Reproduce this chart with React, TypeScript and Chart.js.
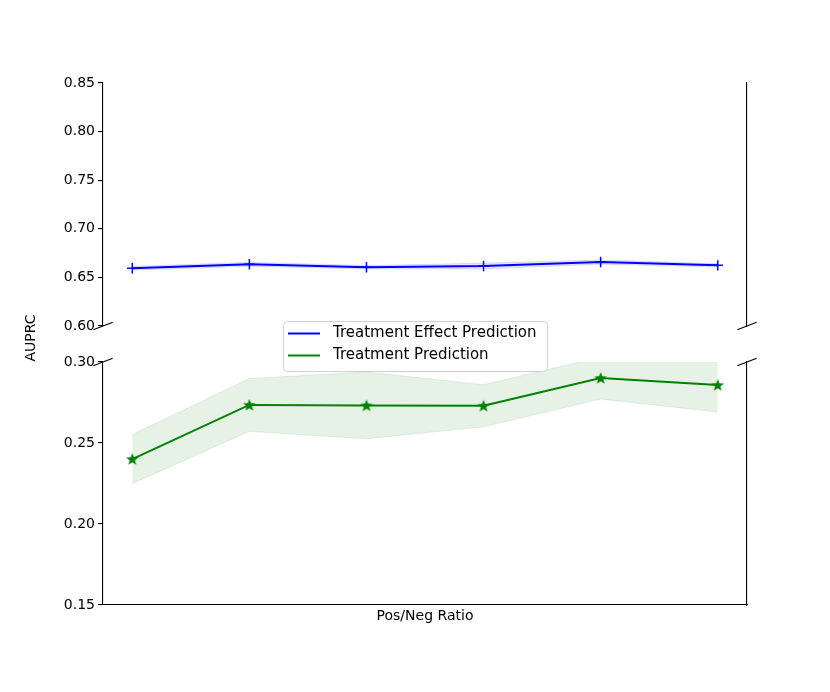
import React, { useRef, useEffect } from 'react';
import { Chart, registerables, Plugin } from 'chart.js';

Chart.register(...registerables);

Chart.defaults.font.family = "'DejaVu Sans', sans-serif";
Chart.defaults.font.size = 14;
Chart.defaults.color = '#000';

// unlabelled x positions (pos/neg ratio steps)
const ratioSteps = [0, 1, 2, 3, 4, 5];

const seriesNames = ['Treatment Effect Prediction', 'Treatment Prediction'];

const effectMean = [0.6594, 0.6635, 0.6604, 0.6617, 0.6658, 0.6624];
const effectStd = [0.0018, 0.0022, 0.0018, 0.003, 0.0022, 0.0018];

const treatMean = [0.2401, 0.2735, 0.2732, 0.2730, 0.2901, 0.2858];
const treatStd = [0.0152, 0.0163, 0.0206, 0.0130, 0.0130, 0.0167];

const topTicks = [0.6, 0.65, 0.7, 0.75, 0.8, 0.85];
const bottomTicks = [0.15, 0.2, 0.25, 0.3];

const BLUE = '#0000ff';
const GREEN = '#008000';

const pts = (vals: number[]) => ratioSteps.map((x, i) => ({ x, y: vals[i] }));
const shifted = (vals: number[], std: number[], sign: number) => vals.map((v, i) => v + sign * std[i]);

const makeStar = (color: string, r: number) => {
	const c = document.createElement('canvas');
	const s = Math.ceil(r * 2 + 2);
	c.width = s;
	c.height = s;
	const ctx = c.getContext('2d')!;
	ctx.beginPath();
	for (let i = 0; i < 10; i++) {
		const rad = i % 2 === 0 ? r : r * 0.42;
		const a = -Math.PI / 2 + (i * Math.PI) / 5;
		ctx.lineTo(s / 2 + rad * Math.cos(a), s / 2 + 0.5 + rad * Math.sin(a));
	}
	ctx.closePath();
	ctx.fillStyle = color;
	ctx.fill();
	return c;
};

const breakMarks = (edge: 'top' | 'bottom'): Plugin => ({
	id: 'breakMarks',
	afterDraw(chart) {
		const { ctx, chartArea: a } = chart;
		const y = edge === 'top' ? a.top : a.bottom;
		const dx = 0.015 * (a.right - a.left);
		const dy = 0.015 * (a.bottom - a.top);
		ctx.save();
		ctx.strokeStyle = '#000';
		ctx.lineWidth = 1.1;
		for (const x of [a.left, a.right]) {
			ctx.beginPath();
			ctx.moveTo(x - dx, y + dy);
			ctx.lineTo(x + dx, y - dy);
			ctx.stroke();
		}
		ctx.restore();
	},
});

// legend at figure centre + shared y label, drawn on the overlaying canvas
const overlay: Plugin = {
	id: 'overlay',
	afterDraw(chart) {
		const { ctx, width, height } = chart;
		const w = 264, h = 50;
		const x0 = width / 2 - w / 2, y0 = height / 2 - h / 2;
		ctx.save();
		ctx.beginPath();
		ctx.roundRect(x0 + 0.5, y0 + 0.5, w, h, 4);
		ctx.fillStyle = 'rgba(255,255,255,0.8)';
		ctx.fill();
		ctx.strokeStyle = '#d0d0d0';
		ctx.lineWidth = 1;
		ctx.stroke();
		const colors = [BLUE, GREEN];
		ctx.font = "15px 'DejaVu Sans'";
		ctx.textBaseline = 'middle';
		ctx.textAlign = 'left';
		seriesNames.forEach((name, i) => {
			const y = y0 + 12.5 + i * 22;
			ctx.beginPath();
			ctx.moveTo(x0 + 5, y);
			ctx.lineTo(x0 + 37, y);
			ctx.strokeStyle = colors[i];
			ctx.lineWidth = 2;
			ctx.stroke();
			ctx.fillStyle = '#000';
			ctx.fillText(name, x0 + 50, y);
		});
		ctx.font = "14px 'DejaVu Sans'";
		ctx.translate(31, 338);
		ctx.rotate(-Math.PI / 2);
		ctx.textAlign = 'center';
		ctx.fillText('AUPRC', 0, 0);
		ctx.restore();
	},
};

const yAxis = (ticks: number[]) => ({
	position: 'left' as const,
	min: ticks[0],
	max: ticks[ticks.length - 1],
	afterBuildTicks: (axis: any) => {
		axis.ticks = ticks.map((value) => ({ value }));
	},
	afterFit: (axis: any) => {
		axis.width = 103;
	},
	ticks: { padding: 3, color: '#000', callback: (v: any) => Number(v).toFixed(2) },
	grid: { drawOnChartArea: false, drawTicks: true, tickLength: 5, color: '#000', lineWidth: 1.1 },
	border: { display: true, color: '#000', width: 1.1 },
});

const rightAxis = {
	position: 'right' as const,
	afterFit: (axis: any) => {
		axis.width = 83;
	},
	ticks: { display: false },
	grid: { display: false },
	border: { display: true, color: '#000', width: 1.1 },
};

const bandSets = (mean: number[], std: number[], rgba: string) => [
	{ data: pts(shifted(mean, std, 1)), borderColor: rgba, backgroundColor: rgba, borderWidth: 1, pointRadius: 0, fill: '+1' },
	{ data: pts(shifted(mean, std, -1)), borderColor: rgba, backgroundColor: rgba, borderWidth: 1, pointRadius: 0, fill: false },
];

const App: React.FC = () => {
	const topRef = useRef<HTMLCanvasElement>(null);
	const bottomRef = useRef<HTMLCanvasElement>(null);

	useEffect(() => {
		const topCtx = topRef.current?.getContext('2d');
		const bottomCtx = bottomRef.current?.getContext('2d');
		if (!topCtx || !bottomCtx) return;

		const topChart = new Chart(topCtx, {
			type: 'line',
			data: {
				datasets: [
					{
						label: seriesNames[0],
						data: pts(effectMean),
						borderColor: BLUE,
						borderWidth: 2,
						pointStyle: 'cross',
						pointRadius: 5.2,
						pointBorderWidth: 1.5,
						pointBorderColor: BLUE,
						fill: false,
					},
					...bandSets(effectMean, effectStd, 'rgba(0,0,255,0.1)'),
				] as any,
			},
			options: {
				animation: false,
				responsive: true,
				maintainAspectRatio: false,
				layout: { padding: { top: 83, bottom: 366, left: 0, right: 0 } },
				plugins: { legend: { display: false }, tooltip: { enabled: false } },
				scales: {
					x: { type: 'linear', min: -0.25, max: 5.25, display: false },
					y: yAxis(topTicks),
					yR: rightAxis,
				} as any,
			},
			plugins: [breakMarks('bottom')],
		});

		const bottomChart = new Chart(bottomCtx, {
			type: 'line',
			data: {
				datasets: [
					{
						label: seriesNames[1],
						data: pts(treatMean),
						borderColor: GREEN,
						borderWidth: 2,
						pointStyle: makeStar(GREEN, 6.6),
						pointRadius: 6,
						fill: false,
					},
					...bandSets(treatMean, treatStd, 'rgba(0,128,0,0.1)'),
				] as any,
			},
			options: {
				animation: false,
				responsive: true,
				maintainAspectRatio: false,
				layout: { padding: { top: 362, bottom: 67, left: 0, right: 0 } },
				plugins: { legend: { display: false }, tooltip: { enabled: false } },
				scales: {
					x: {
						type: 'linear',
						min: -0.25,
						max: 5.25,
						afterFit: (axis: any) => {
							axis.height = 20;
						},
						ticks: { display: false },
						grid: { display: false },
						border: { display: true, color: '#000', width: 1.1 },
						title: { display: true, text: 'Pos/Neg Ratio', color: '#000', padding: 0, font: { size: 14 } },
					},
					y: yAxis(bottomTicks),
					yR: rightAxis,
				} as any,
			},
			plugins: [breakMarks('top'), overlay],
		});

		return () => {
			topChart.destroy();
			bottomChart.destroy();
		};
	}, []);

	const layer: React.CSSProperties = { position: 'absolute', left: 0, top: 0, width: 830, height: 692 };

	return (
		<div style={{ position: 'absolute', left: 0, top: 0, width: 830, height: 692, background: '#fff' }}>
			<div style={layer}>
				<canvas ref={topRef} />
			</div>
			<div style={layer}>
				<canvas ref={bottomRef} />
			</div>
		</div>
	);
};

export default App;
